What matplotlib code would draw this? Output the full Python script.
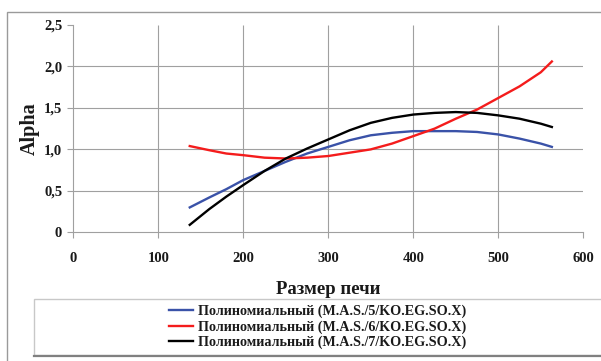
import matplotlib
matplotlib.use("Agg")
import matplotlib.pyplot as plt
from matplotlib.patches import Rectangle
from matplotlib.lines import Line2D

plt.rcParams['font.family'] = ['Liberation Serif', 'DejaVu Serif']
plt.rcParams['font.weight'] = 'bold'

x_vals = [137, 160, 180, 200, 225, 250, 275, 300, 325, 350, 375, 400, 425, 450, 475, 500, 525, 550, 563]
blue_vals = [0.30, 0.42, 0.52, 0.63, 0.74, 0.85, 0.95, 1.03, 1.11, 1.17, 1.20, 1.22, 1.22, 1.22, 1.21, 1.18, 1.13, 1.07, 1.03]
red_vals = [1.04, 0.99, 0.95, 0.93, 0.90, 0.89, 0.90, 0.92, 0.96, 1.00, 1.07, 1.16, 1.25, 1.37, 1.48, 1.62, 1.76, 1.93, 2.06]
black_vals = [0.09, 0.28, 0.43, 0.57, 0.74, 0.89, 1.01, 1.12, 1.23, 1.32, 1.38, 1.42, 1.44, 1.45, 1.44, 1.41, 1.37, 1.31, 1.27]

series_labels = ["Полиномиальный (M.A.S./5/KO.EG.SO.X)",
                 "Полиномиальный (M.A.S./6/KO.EG.SO.X)",
                 "Полиномиальный (M.A.S./7/KO.EG.SO.X)"]
series_colors = ["#3a52a8", "#f41c1c", "#000000"]

x_ticks = [0, 100, 200, 300, 400, 500, 600]
y_ticks = [0, 0.5, 1.0, 1.5, 2.0, 2.5]
y_ticklabels = ["0", "0,5", "1,0", "1,5", "2,0", "2,5"]

W, H = 601, 361
fig = plt.figure(figsize=(W / 100, H / 100), dpi=100)

# outer chart frame and legend box
fig.patches.append(Rectangle((7 / W, -0.1), 1.2, 1 - 12 / H + 0.1, transform=fig.transFigure,
                             fill=False, edgecolor="#9a9a9a", lw=1.0))
fig.patches.append(Rectangle((34 / W, 1 - 355 / H), 1.2, (355 - 299) / H, transform=fig.transFigure,
                             fill=False, edgecolor="#c8c8c8", lw=1.0))
fig.lines.append(Line2D([34 / W, 1.0], [1 - 355.5 / H, 1 - 355.5 / H], transform=fig.transFigure,
                        color="#808080", lw=1.6))

ax = fig.add_axes([73.3 / W, 1 - 232.3 / H, 510 / W, (232.3 - 25) / H])
ax.set_xlim(0, 600)
ax.set_ylim(0, 2.5)

grid_color = "#a0a0a0"
ax.vlines(x_ticks[1:-1], 0, 2.5, color=grid_color, lw=0.8, zorder=0)
ax.hlines(y_ticks[1:-1], 0, 600, color=grid_color, lw=0.8, zorder=0)

for s in ["top", "right"]:
    ax.spines[s].set_visible(False)
for s in ["left", "bottom"]:
    ax.spines[s].set_color(grid_color)
    ax.spines[s].set_linewidth(0.8)

ax.set_xticks(x_ticks)
ax.set_yticks(y_ticks)
ax.set_yticklabels(y_ticklabels)
ax.tick_params(axis='both', colors=grid_color, length=4, width=0.8, labelsize=10.5)
ax.tick_params(axis='x', pad=10)
ax.tick_params(axis='y', pad=4)
for lab in ax.get_xticklabels() + ax.get_yticklabels():
    lab.set_color("#1a1a1a")
    lab.set_fontweight("bold")

handles = []
for yv, c, lab in zip([blue_vals, red_vals, black_vals], series_colors, series_labels):
    h, = ax.plot(x_vals, yv, color=c, lw=1.7, label=lab, zorder=3)
    handles.append(h)

ax.set_xlabel("Размер печи", fontsize=13.5, fontweight="bold", color="#1a1a1a", labelpad=12)
ax.set_ylabel("Alpha", fontsize=14.5, fontweight="bold", color="#1a1a1a", labelpad=3)

leg = fig.legend(handles=handles, loc="center left", bbox_to_anchor=(163 / W, 1 - 327 / H),
                 frameon=False, fontsize=10.2, handlelength=1.7, handletextpad=0.35,
                 labelspacing=0.15, borderaxespad=0)
for t in leg.get_texts():
    t.set_fontweight("bold")
    t.set_color("#1a1a1a")

fig.savefig("out.png", dpi=100)
